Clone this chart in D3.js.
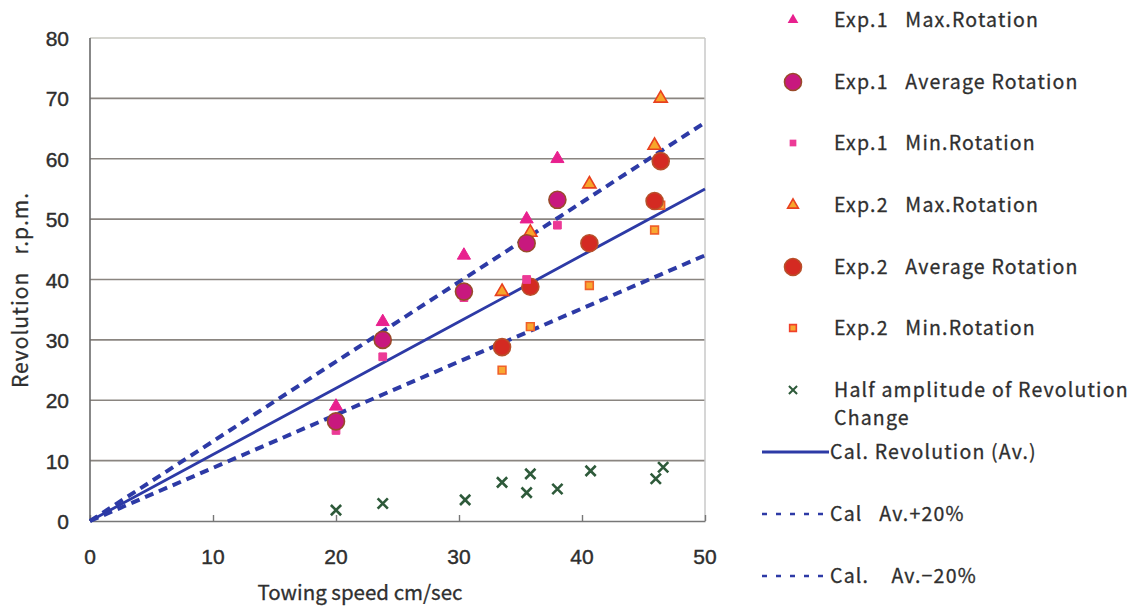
<!DOCTYPE html>
<html>
<head>
<meta charset="utf-8">
<script src="https://cdn.jsdelivr.net/npm/d3@7"></script>
<style>
  body { margin: 0; background: #fff; }
  .tick-label { font-family: "Liberation Sans", Arial, sans-serif; font-size: 21px; fill: #2e2e2e; stroke: #2e2e2e; stroke-width: 0.4; }
  .title, .legend-text { font-family: "Noto Sans CJK JP", "Liberation Sans", sans-serif; fill: #2f2f2f; stroke: #2f2f2f; stroke-width: 0.3; }
</style>
</head>
<body>
<svg id="chart" width="1133" height="613"></svg>
<script>
// towing speed (cm/sec) and revolution (r.p.m.)
var exp1Speed = [20, 23.8, 30.4, 35.5, 38.0];
var exp1Max = [19, 33, 44, 50, 60];
var exp1Avg = [16.5, 30, 38, 46, 53.2];
var exp1Min = [15, 27.2, 37, 40, 49];

var exp2Speed = [33.5, 35.8, 40.6, 45.9, 46.4];
var exp2Max = [38, 47.8, 55.8, 62.2, 70];
var exp2Avg = [28.8, 38.8, 46, 53, 59.6];
var exp2Min = [25, 32.2, 39, 48.2, 52.3];

var halfSpeed = [20, 23.8, 30.5, 33.5, 35.8, 35.5, 38.0, 40.7, 46.0, 46.6];
var halfAmp = [1.8, 2.9, 3.5, 6.4, 7.8, 4.7, 5.3, 8.3, 7.0, 8.9];

var calSpeed = [0, 10, 20, 30, 40, 50];
var calAvg = [0, 11, 22, 33, 44, 55];
var calPlus = [0, 13.2, 26.4, 39.6, 52.8, 66];
var calMinus = [0, 8.8, 17.6, 26.4, 35.2, 44];

var xTicks = [0, 10, 20, 30, 40, 50];
var yTicks = [0, 10, 20, 30, 40, 50, 60, 70, 80];

var svg = d3.select("#chart");
var plotLeft = 90, plotRight = 705, plotTop = 38, plotBottom = 521;

var x = d3.scaleLinear().domain([0, 50]).range([plotLeft, plotRight]);
var y = d3.scaleLinear().domain([0, 80]).range([plotBottom, plotTop]);

// grid lines
svg.append("g")
    .selectAll("line")
    .data(yTicks.filter(function(d) { return d > 0; }))
    .enter().append("line")
    .attr("x1", plotLeft)
    .attr("x2", plotRight)
    .attr("y1", function(d) { return y(d); })
    .attr("y2", function(d) { return y(d); })
    .attr("stroke", function(d) { return d == 80 ? "#c8c8c0" : "#8a8580"; })
    .attr("stroke-width", 1.6);

// right border
svg.append("line")
    .attr("x1", plotRight).attr("x2", plotRight)
    .attr("y1", plotTop).attr("y2", plotBottom)
    .attr("stroke", "#c8c8c8").attr("stroke-width", 1.5);

// axes
var xAxis = svg.append("g")
    .attr("transform", "translate(0," + plotBottom + ")")
    .call(d3.axisBottom(x).tickValues(xTicks).tickSizeInner(-6).tickSizeOuter(0).tickFormat(""));
xAxis.select(".domain").attr("stroke", "#777").attr("stroke-width", 1.6);
xAxis.selectAll(".tick line").attr("stroke", "#777").attr("stroke-width", 1.4);

svg.append("line")
    .attr("x1", plotLeft).attr("x2", plotLeft)
    .attr("y1", plotTop).attr("y2", plotBottom)
    .attr("stroke", "#6a6a6a").attr("stroke-width", 1.6);

// tick labels
svg.append("g")
    .selectAll("text")
    .data(xTicks)
    .enter().append("text")
    .attr("class", "tick-label")
    .attr("x", function(d) { return x(d); })
    .attr("y", 564)
    .attr("text-anchor", "middle")
    .text(function(d) { return d; });

svg.append("g")
    .selectAll("text")
    .data(yTicks)
    .enter().append("text")
    .attr("class", "tick-label")
    .attr("x", 69)
    .attr("y", function(d) { return y(d) + 8; })
    .attr("text-anchor", "end")
    .text(function(d) { return d; });

// axis titles
svg.append("text")
    .attr("class", "title")
    .attr("x", 360)
    .attr("y", 600)
    .attr("text-anchor", "middle")
    .attr("font-size", 20.5)
    .text("Towing speed cm/sec");

svg.append("text")
    .attr("class", "title")
    .attr("transform", "translate(28,290) rotate(-90)")
    .attr("text-anchor", "middle")
    .attr("font-size", 21)
    .attr("letter-spacing", 1)
    .text("Revolution\u00a0\u00a0\u00a0r.p.m.");

// calculated lines
var line = d3.line()
    .x(function(d) { return x(d[0]); })
    .y(function(d) { return y(d[1]); });

function pairs(vals) {
    return calSpeed.map(function(s, i) { return [s, vals[i]]; });
}

svg.append("path")
    .attr("d", line(pairs(calAvg)))
    .attr("fill", "none")
    .attr("stroke", "#2d3aa6")
    .attr("stroke-width", 2.8);

[calPlus, calMinus].forEach(function(vals) {
    svg.append("path")
        .attr("d", line(pairs(vals)))
        .attr("fill", "none")
        .attr("stroke", "#2d3aa6")
        .attr("stroke-width", 4)
        .attr("stroke-dasharray", "9,6");
});

// markers
var tri = d3.symbol().type(d3.symbolTriangle).size(75);
var sq = d3.symbol().type(d3.symbolSquare).size(60);

function drawSymbols(speeds, vals, gen, fill, stroke, sw) {
    svg.append("g")
        .selectAll("path")
        .data(vals)
        .enter().append("path")
        .attr("d", gen)
        .attr("transform", function(d, i) {
            return "translate(" + x(speeds[i]) + "," + y(d) + ")";
        })
        .attr("fill", fill)
        .attr("stroke", stroke)
        .attr("stroke-width", sw);
}

function drawCircles(speeds, vals, fill, stroke) {
    svg.append("g")
        .selectAll("circle")
        .data(vals)
        .enter().append("circle")
        .attr("cx", function(d, i) { return x(speeds[i]); })
        .attr("cy", function(d) { return y(d); })
        .attr("r", 8.5)
        .attr("fill", fill)
        .attr("stroke", stroke)
        .attr("stroke-width", 1.6);
}

drawSymbols(exp2Speed, exp2Max, tri, "#f7a52a", "#e8401f", 1.6);
drawSymbols(exp2Speed, exp2Min, sq, "#f8a830", "#f0602a", 1.6);
drawCircles(exp2Speed, exp2Avg, "#d42a22", "#b8502a");

drawSymbols(exp1Speed, exp1Max, tri, "#e8208e", "#e8208e", 1);
drawSymbols(exp1Speed, exp1Min, sq, "#ec3a96", "#ec3a96", 1);
drawCircles(exp1Speed, exp1Avg, "#c8187e", "#9a4a2a");

var cross = d3.symbol().type(d3.symbolX).size(70);
svg.append("g")
    .selectAll("path")
    .data(halfAmp)
    .enter().append("path")
    .attr("d", cross)
    .attr("transform", function(d, i) {
        return "translate(" + x(halfSpeed[i]) + "," + y(d) + ")";
    })
    .attr("fill", "none")
    .attr("stroke", "#2e5a3a")
    .attr("stroke-width", 2.6);

// legend
var legend = svg.append("g");
var legendRows = [
    { label: "Exp.1\u00a0\u00a0\u00a0Max.Rotation", y: 20, kind: "tri1" },
    { label: "Exp.1\u00a0\u00a0\u00a0Average Rotation", y: 82, kind: "circ1" },
    { label: "Exp.1\u00a0\u00a0\u00a0Min.Rotation", y: 143, kind: "sq1" },
    { label: "Exp.2\u00a0\u00a0\u00a0Max.Rotation", y: 205, kind: "tri2" },
    { label: "Exp.2\u00a0\u00a0\u00a0Average Rotation", y: 267, kind: "circ2" },
    { label: "Exp.2\u00a0\u00a0\u00a0Min.Rotation", y: 328, kind: "sq2" },
    { label: "Half amplitude of Revolution", y: 390, kind: "x" },
    { label: "Change", y: 418, kind: "" },
    { label: "Cal. Revolution (Av.)", y: 452, kind: "solid" },
    { label: "Cal\u00a0\u00a0\u00a0Av.+20%", y: 514, kind: "dash" },
    { label: "Cal.\u00a0\u00a0\u00a0\u00a0Av.\u221220%", y: 576, kind: "dash" }
];

legend.selectAll("text")
    .data(legendRows)
    .enter().append("text")
    .attr("class", "legend-text")
    .attr("x", function(d) { return d.kind == "solid" || d.kind == "dash" ? 830 : 834; })
    .attr("y", function(d) { return d.y + 7; })
    .attr("font-size", 19.5)
    .attr("letter-spacing", 1.2)
    .text(function(d) { return d.label; });

legendRows.forEach(function(d) {
    var mx = 793;
    if (d.kind == "tri1") {
        legend.append("path").attr("d", d3.symbol().type(d3.symbolTriangle).size(50))
            .attr("transform", "translate(" + mx + "," + d.y + ")").attr("fill", "#e8208e");
    } else if (d.kind == "tri2") {
        legend.append("path").attr("d", d3.symbol().type(d3.symbolTriangle).size(50))
            .attr("transform", "translate(" + mx + "," + d.y + ")")
            .attr("fill", "#f7a52a").attr("stroke", "#e8401f").attr("stroke-width", 1.6);
    } else if (d.kind == "circ1") {
        legend.append("circle").attr("cx", mx).attr("cy", d.y).attr("r", 8.5)
            .attr("fill", "#c8187e").attr("stroke", "#9a4a2a").attr("stroke-width", 1.6);
    } else if (d.kind == "circ2") {
        legend.append("circle").attr("cx", mx).attr("cy", d.y).attr("r", 8.5)
            .attr("fill", "#d42a22").attr("stroke", "#b8502a").attr("stroke-width", 1.6);
    } else if (d.kind == "sq1") {
        legend.append("path").attr("d", d3.symbol().type(d3.symbolSquare).size(45))
            .attr("transform", "translate(" + mx + "," + d.y + ")").attr("fill", "#ec3a96");
    } else if (d.kind == "sq2") {
        legend.append("path").attr("d", d3.symbol().type(d3.symbolSquare).size(45))
            .attr("transform", "translate(" + mx + "," + d.y + ")")
            .attr("fill", "#f8a830").attr("stroke", "#f0402a").attr("stroke-width", 1.6);
    } else if (d.kind == "x") {
        legend.append("path").attr("d", d3.symbol().type(d3.symbolX).size(45))
            .attr("transform", "translate(" + mx + "," + d.y + ")")
            .attr("fill", "none").attr("stroke", "#2e5a3a").attr("stroke-width", 2);
    } else if (d.kind == "solid") {
        legend.append("line").attr("x1", 762).attr("x2", 829).attr("y1", d.y).attr("y2", d.y)
            .attr("stroke", "#2d3aa6").attr("stroke-width", 2.8);
    } else if (d.kind == "dash") {
        legend.append("line").attr("x1", 762).attr("x2", 829).attr("y1", d.y).attr("y2", d.y)
            .attr("stroke", "#2d3aa6").attr("stroke-width", 2.6).attr("stroke-dasharray", "5,9");
    }
});
</script>
</body>
</html>
